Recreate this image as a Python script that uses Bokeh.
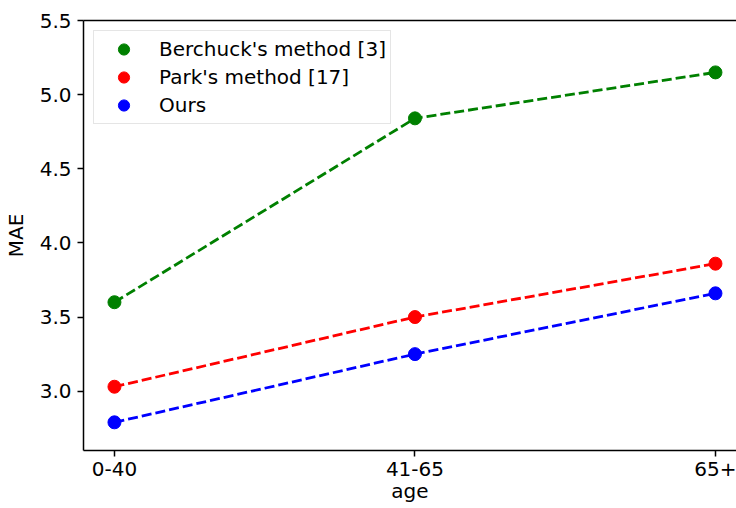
from bokeh.plotting import figure
from bokeh.models import (FixedTicker, LinearAxis, Range1d, Legend,
                          LegendItem, NumeralTickFormatter)
from bokeh.embed import file_html
from bokeh.resources import INLINE

categories = ["0-40", "41-65", "65+"]
berchuck = [3.60, 4.84, 5.15]
park = [3.03, 3.50, 3.86]
ours = [2.79, 3.25, 3.66]
y_ticks = [3.0, 3.5, 4.0, 4.5, 5.0, 5.5]
series_names = ["Berchuck's method [3]", "Park's method [17]", "Ours"]
series_colors = ["#008000", "#ff0000", "#0000ff"]

x = list(range(len(categories)))
FONT = "DejaVu Sans"
FS = "20px"
x_start, x_end = -0.103, 2.07
y_start, y_end = 2.6, 5.5

p = figure(width=736, height=508, output_backend="svg", toolbar_location=None,
           x_range=Range1d(x_start, x_end), y_range=Range1d(y_start, y_end),
           min_border_left=82, min_border_right=0, min_border_top=20,
           min_border_bottom=58, x_axis_label="age", y_axis_label="MAE")
p.xgrid.visible = False
p.ygrid.visible = False
p.outline_line_color = None
p.background_fill_color = "white"
p.border_fill_color = "white"

items = []
for name, vals, col in zip(series_names, [berchuck, park, ours], series_colors):
    p.line(x, vals, line_color=col, line_width=2.8, line_dash="10 4")
for name, vals, col in zip(series_names, [berchuck, park, ours], series_colors):
    r = p.scatter(x, vals, size=13, fill_color=col, line_color=col)
    items.append(LegendItem(label=name, renderers=[r]))

for ax in (p.xaxis[0], p.yaxis[0]):
    ax.axis_line_width = 1.5
    ax.axis_line_color = "black"
    ax.major_tick_out = 6
    ax.major_tick_in = 0
    ax.major_tick_line_width = 1.5
    ax.major_tick_line_color = "black"
    ax.minor_tick_line_color = None
    ax.major_label_text_font = FONT
    ax.major_label_text_font_size = FS
    ax.major_label_text_color = "black"
    ax.axis_label_text_font = FONT
    ax.axis_label_text_font_size = FS
    ax.axis_label_text_font_style = "normal"
    ax.axis_label_text_color = "black"

p.xaxis.major_label_standoff = 5
p.xaxis.axis_label_standoff = 0
p.yaxis.major_label_standoff = 6
p.yaxis.axis_label_standoff = 9

p.xaxis.ticker = FixedTicker(ticks=x)
p.xaxis.major_label_overrides = {i: c for i, c in zip(x, categories)}
p.yaxis.ticker = FixedTicker(ticks=y_ticks)
p.yaxis.formatter = NumeralTickFormatter(format="0.0")

top = LinearAxis(ticker=FixedTicker(ticks=[]), major_tick_line_color=None,
                 minor_tick_line_color=None, major_label_text_font_size="0px",
                 major_tick_out=0, major_label_standoff=0,
                 axis_line_width=1.5, axis_line_color="black")
p.add_layout(top, "above")

legend = Legend(items=items, location="top_left", margin=10, padding=4,
                spacing=0, glyph_width=51, glyph_height=28, label_height=28,
                label_standoff=10, label_text_font=FONT, label_text_font_size=FS,
                label_text_color="black", border_line_color="#cccccc",
                border_line_width=1, background_fill_color="white",
                background_fill_alpha=0.8)
p.add_layout(legend, "center")

open("out.html", "w").write(file_html(p, INLINE))
